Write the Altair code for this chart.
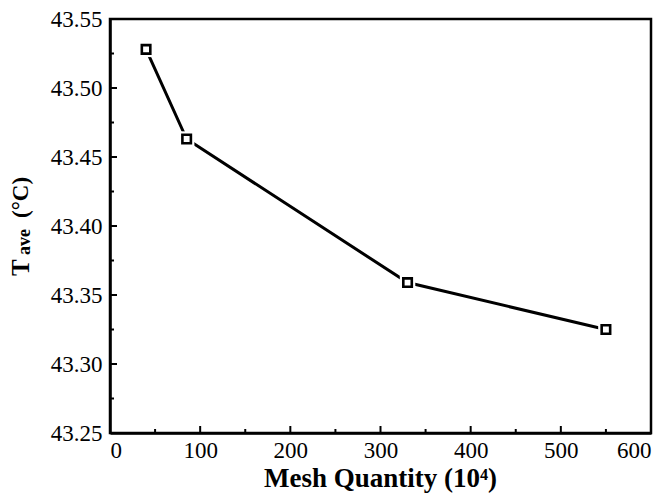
import altair as alt
import pandas as pd

# Data
mesh = [40, 85, 330, 550]
tave = [43.528, 43.463, 43.359, 43.325]

x_major = [0, 100, 200, 300, 400, 500, 600]
x_minor = [50, 150, 250, 350, 450, 550]
y_major = [43.25, 43.30, 43.35, 43.40, 43.45, 43.50, 43.55]
y_minor = [43.275, 43.325, 43.375, 43.425, 43.475, 43.525]

df = pd.DataFrame({"mesh": mesh, "tave": tave})
W, H = 541, 414
FONT = "Liberation Serif"

xs = alt.Scale(domain=[0, 600], nice=False, zero=False)
ys = alt.Scale(domain=[43.25, 43.55], nice=False, zero=False)

xa = alt.Axis(values=x_major, ticks=False, grid=False, title=None,
              labelPadding=6, labelOverlap=False, format="d",
              labelFont=FONT, labelFontSize=23, labelColor="black")
ya = alt.Axis(values=y_major, ticks=False, grid=False, title=None,
              labelPadding=8, labelOverlap=False, format=".2f",
              labelFont=FONT, labelFontSize=23, labelColor="black")

base = alt.Chart(df)
enc = dict(x=alt.X("mesh:Q", scale=xs, axis=xa), y=alt.Y("tave:Q", scale=ys, axis=ya))

line = base.mark_line(color="black", strokeWidth=3).encode(**enc)
halo = base.mark_point(shape="square", filled=True, color="white", size=240, opacity=1).encode(**enc)
pts = base.mark_point(shape="square", fill="white", stroke="black", strokeWidth=2.6,
                      size=72, opacity=1, fillOpacity=1).encode(**enc)

def xticks(vals, ln):
    return alt.Chart(pd.DataFrame({"v": vals})).mark_rule(color="black", strokeWidth=2).encode(
        x=alt.X("v:Q", scale=xs, axis=xa), y=alt.value(H), y2=alt.value(H - ln))

def yticks(vals, ln):
    return alt.Chart(pd.DataFrame({"v": vals})).mark_rule(color="black", strokeWidth=2).encode(
        y=alt.Y("v:Q", scale=ys, axis=ya), x=alt.value(0), x2=alt.value(ln))

titles = pd.DataFrame({"t": ["x"]})
xtitle = alt.Chart(titles).mark_text(text="Mesh Quantity (10⁴)", font=FONT, fontSize=27,
                                      fontWeight="bold", align="center", baseline="alphabetic",
                                      color="black").encode(x=alt.value(W / 2), y=alt.value(468))
yt1 = alt.Chart(titles).mark_text(text="T", font=FONT, fontSize=25, fontWeight="bold",
                                   align="left", baseline="alphabetic", angle=270,
                                   color="black").encode(x=alt.value(-81.5), y=alt.value(257))
yt2 = alt.Chart(titles).mark_text(text="ave", font=FONT, fontSize=18, fontWeight="bold",
                                   align="left", baseline="alphabetic", angle=270,
                                   color="black").encode(x=alt.value(-80.5), y=alt.value(236))
yt3 = alt.Chart(titles).mark_text(text="(°C)", font=FONT, fontSize=23, fontWeight="bold",
                                   align="left", baseline="alphabetic", angle=270,
                                   color="black").encode(x=alt.value(-82), y=alt.value(199))

chart = alt.layer(
    line, halo, pts,
    xticks(x_major, 7), xticks(x_minor, 4), yticks(y_major, 7), yticks(y_minor, 4),
    xtitle, yt1, yt2, yt3,
).properties(
    width=W, height=H,
    autosize=alt.AutoSizeParams(type="none"),
    padding={"left": 110, "top": 19, "right": 19, "bottom": 71},
    background="white",
).configure(
    font=FONT,
    view=alt.ViewConfig(stroke="black", strokeWidth=2.5),
    axis=alt.AxisConfig(labelFont=FONT, labelFontSize=23, labelColor="black",
                        domainColor="black", domainWidth=2.5),
)

chart.save("out.html", embed_options={"renderer": "svg", "actions": False})
